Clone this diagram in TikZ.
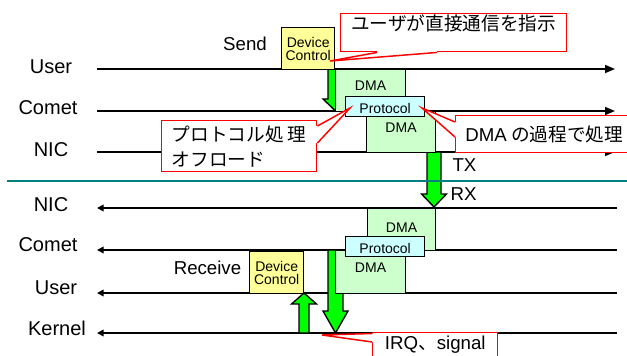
\documentclass[tikz,border=0pt]{standalone}
\usepackage{fontspec}
\setmainfont{Liberation Sans}
\newfontfamily\jpfont{Noto Sans CJK JP}
\usetikzlibrary{arrows.meta,calc}

\definecolor{dcyellow}{RGB}{255,255,153}
\definecolor{dmagreen}{RGB}{204,255,204}
\definecolor{protocyan}{RGB}{204,255,255}
\definecolor{fatgreen}{RGB}{0,255,0}
\definecolor{divteal}{RGB}{0,128,128}

\tikzset{
  lane/.style={line width=1.2pt},
  sendlane/.style={lane,-{Triangle[length=7.5pt,width=6pt]}},
  recvlane/.style={lane,-{Triangle[length=5pt,width=5pt]}},
  lanelabel/.style={font=\fontsize{15}{18}\selectfont},
  phase/.style={font=\fontsize{14}{17}\selectfont},
  devbox/.style={draw, line width=1pt, fill=dcyellow, anchor=north west, inner sep=0pt,
    minimum width=39.75pt, minimum height=31.5pt, align=center,
    font=\fontsize{10.5}{9.6}\selectfont},
  dmabox/.style={draw, line width=0.8pt, fill=dmagreen, anchor=north west, inner sep=0pt,
    minimum width=52.5pt, font=\fontsize{10.5}{12}\selectfont},
  protobox/.style={draw, line width=1pt, fill=protocyan, anchor=north west, inner sep=0pt,
    minimum width=59.25pt, text height=12.5pt, text depth=2.5pt, font=\fontsize{10.5}{12}\selectfont},
  fatarrow/.style={draw, line width=1pt, fill=fatgreen},
  divider/.style={draw=divteal, line width=1.5pt},
  note/.style={draw=red, line width=1.1pt, fill=white, anchor=north west, inner ysep=0pt,
    font=\jpfont\fontsize{14}{18.75}\selectfont},
  notewedge/.style={draw=red, line width=1.1pt},
}

% x, from y, to y, half shaft, head length
\newcommand\fatarrowpath[5]{%
  \pgfmathsetmacro\fabase{(#3>#2) ? #3-#5 : #3+#5}%
  \filldraw[fatarrow] ({#1-#4},#2) -- ({#1-#4},\fabase) -- ({#1-12.5},\fabase) -- (#1,#3)
    -- ({#1+12.5},\fabase) -- ({#1+#4},\fabase) -- ({#1+#4},#2) -- cycle;}

\begin{document}
\begin{tikzpicture}[x=0.75pt,y=-0.75pt]
\useasboundingbox (0,0) rectangle (627,356);

% send side
\foreach \y/\nm/\txt/\lx/\ly in {69/tUser/User/51/67, 111/tComet/Comet/48/107.5, 152/tNIC/NIC/51/149.5}{
  \coordinate (\nm-s) at (97,\y);
  \coordinate (\nm-e) at (615,\y);
  \draw[sendlane] (\nm-s) -- (\nm-e);
  \node[lanelabel] (\nm) at (\lx,\ly) {\txt};
}
% receive side
\foreach \y/\nm/\txt/\lx/\ly in {208/bNIC/NIC/51/205, 250/bComet/Comet/48/245, 293/bUser/User/56/287.5, 333/bKernel/Kernel/57/328}{
  \coordinate (\nm-s) at (97,\y);
  \coordinate (\nm-e) at (617,\y);
  \draw[recvlane] (\nm-e) -- (\nm-s);
  \node[lanelabel] (\nm) at (\lx,\ly) {\txt};
}

\node[phase] (send) at (245,43.5) {Send};
\node[phase] (recv) at (207.5,268) {Receive};
\node[phase] (tx) at (464.5,165.5) {TX};
\node[phase] (rx) at (463.5,194.5) {RX};

% green arrows
\fatarrowpath{335.5}{69}{111}{7.5}{12}
\fatarrowpath{434}{152}{207}{7}{13}
\fatarrowpath{304}{333}{293}{5}{11}
\fatarrowpath{335.5}{250}{333}{7.5}{22}

% boxes
\node[devbox] (dcSend) at (281,27) {Device\\Control};
\node[devbox, minimum width=40.5pt] (dcRecv) at (249,251) {Device\\Control};
\node[dmabox, text height=15.75pt, text depth=15.75pt] (dmaSendA) at (335,69) {DMA};
\node[dmabox, minimum width=51.75pt, text height=15.75pt, text depth=15pt] (dmaSendB) at (366,111) {DMA};
\node[dmabox, minimum width=51pt, text height=18pt, text depth=13.5pt] (dmaRecvA) at (367,208) {DMA};
\node[dmabox, text height=16.5pt, text depth=15.75pt] (dmaRecvB) at (335,250) {DMA};
\node[protobox] (protoSend) at (345,96) {Protocol};
\node[protobox] (protoRecv) at (345,236) {Protocol};

\draw[divider] (7,181) coordinate (divL) -- (627,181) coordinate (divR);

% callouts
\node[note, minimum width=169.5pt, text height=12.75pt, text depth=15.75pt] (noteDirect) at (340,13) {ユーザが直接通信を指示};
\node[note, minimum width=116.25pt, minimum height=38.25pt, align=left] (noteOffload) at (161,120) {プロトコル処 理\\オフロード};
\node[note, minimum width=132.75pt, minimum height=27.75pt] (noteDma) at (455,115) {{\rmfamily DMA} の過程で処理};
\node[note, minimum width=93.75pt, text height=12.3pt, text depth=15pt] (noteIrq) at (372,332) {{\rmfamily IRQ}、{\rmfamily signal}};

\coordinate (tipDirect) at (330,61);
\coordinate (tipOffload) at (350,108);
\coordinate (tipDma) at (422,108);
\coordinate (tipIrq) at (322,335);

\coordinate (a1) at ($(noteDirect.south west)+(37,0)$);
\coordinate (b1) at ($(noteDirect.south west)+(97,0)$);
\fill[white] ($(a1)+(0,-1.5)$) -- (a1) -- (tipDirect) -- (b1) -- ($(b1)+(0,-1.5)$) -- cycle;
\draw[notewedge] (a1) -- (tipDirect) -- (b1);

\coordinate (a2) at ($(noteOffload.north east)+(0,6)$);
\coordinate (b2) at ($(noteOffload.north east)+(0,23)$);
\fill[white] ($(a2)+(-1.5,0)$) -- (a2) -- (tipOffload) -- (b2) -- ($(b2)+(-1.5,0)$) -- cycle;
\draw[notewedge] (a2) -- (tipOffload) -- (b2);

\coordinate (a3) at ($(noteDma.north west)+(0,7)$);
\coordinate (b3) at ($(noteDma.north west)+(0,22)$);
\fill[white] ($(a3)+(1.5,0)$) -- (a3) -- (tipDma) -- (b3) -- ($(b3)+(1.5,0)$) -- cycle;
\draw[notewedge] (a3) -- (tipDma) -- (b3);

\coordinate (a4) at ($(noteIrq.north west)+(0,1.5)$);
\coordinate (b4) at ($(noteIrq.north west)+(0,10)$);
\fill[white] ($(a4)+(1.5,0)$) -- (a4) -- (tipIrq) -- (b4) -- ($(b4)+(1.5,0)$) -- cycle;
\draw[notewedge] (a4) -- (tipIrq) -- (b4);
\end{tikzpicture}
\end{document}
